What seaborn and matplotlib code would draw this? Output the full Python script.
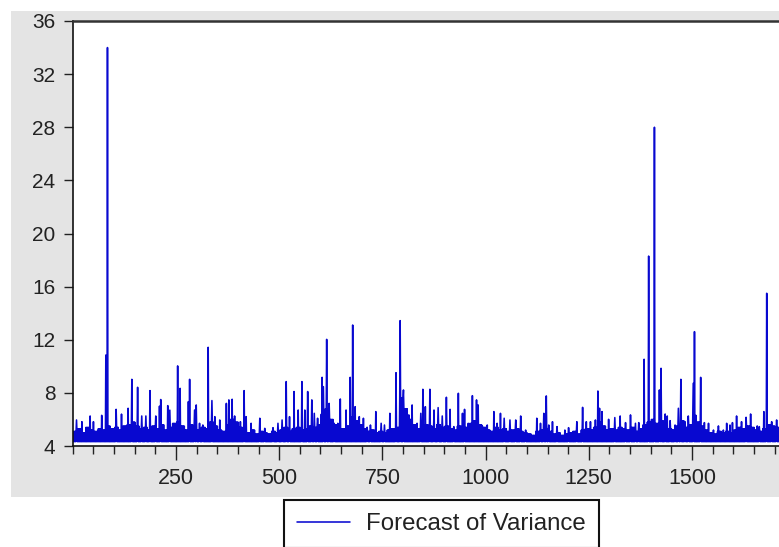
import numpy as np
import pandas as pd
import matplotlib
matplotlib.use("Agg")
import matplotlib.pyplot as plt
import matplotlib.patches as mpatches
from matplotlib.ticker import MultipleLocator
import seaborn as sns

# ---------------- data ----------------
n_obs = 1760
floor_level = 4.33          # bottom of the dense band
seg_len = 10                # band level given per 10 observations
band_top = [5.1, 5.3, 5.0, 5.4, 5.2, 5.1, 5.3, 5.2, 5.5, 5.3,
            5.4, 5.2, 5.5, 5.6, 5.8, 5.5, 5.3, 5.4, 5.2, 5.5,
            5.3, 5.6, 5.2, 5.4, 5.7, 5.8, 5.5, 5.2, 5.6, 5.4,
            5.2, 5.4, 5.3, 5.8, 5.5, 5.2, 5.1, 5.6, 6.0, 5.8,
            5.4, 5.1, 5.0, 5.2, 4.9, 5.1, 5.0, 4.9, 5.1, 5.0,
            5.2, 5.4, 5.1, 5.3, 5.4, 5.2, 5.3, 5.5, 5.4, 5.6,
            6.4, 6.8, 6.0, 5.6, 5.2, 5.3, 5.5, 6.2, 5.9, 5.6,
            5.3, 5.1, 5.2, 5.0, 5.1, 5.0, 5.2, 5.3, 5.4, 7.6,
            6.8, 6.0, 5.6, 5.3, 5.4, 5.6, 5.5, 5.3, 5.6, 5.4,
            5.5, 5.3, 5.2, 5.5, 5.3, 5.4, 5.7, 5.9, 5.6, 5.4,
            5.2, 5.1, 5.4, 5.2, 5.3, 5.1, 5.2, 5.3, 5.1, 5.0,
            4.9, 4.8, 5.1, 5.2, 5.3, 5.1, 4.9, 5.0, 4.8, 4.9,
            5.0, 5.1, 4.9, 5.2, 5.3, 5.2, 5.4, 5.8, 5.5, 5.2,
            5.3, 5.2, 5.4, 5.3, 5.2, 5.4, 5.1, 5.3, 5.6, 5.8,
            6.0, 5.7, 5.9, 5.5, 5.3, 5.2, 5.5, 5.9, 5.4, 5.6,
            6.3, 5.8, 5.5, 5.2, 5.0, 4.9, 5.1, 5.0, 5.1, 5.0,
            5.2, 5.4, 5.3, 5.5, 5.4, 5.2, 5.1, 5.3, 5.6, 5.5,
            5.4, 5.3, 5.2, 5.4, 5.3, 5.2]
spike_obs = [9, 22, 42, 50, 70, 80, 84, 105, 118, 134, 143, 157, 167, 177, 187,
             201, 210, 213, 230, 235, 254, 260, 280, 283, 295, 299, 307, 315, 328,
             337, 344, 356, 372, 378, 386, 392, 406, 415, 420, 432, 453, 465, 485,
             497, 507, 517, 525, 536, 546, 555, 562, 569, 579, 585, 593, 604, 607,
             615, 621, 633, 642, 648, 662, 672, 678, 684, 694, 704, 713, 721, 734,
             747, 755, 768, 783, 793, 801, 814, 822, 834, 843, 848, 854, 865, 875,
             885, 895, 905, 914, 923, 934, 944, 949, 958, 968, 978, 982, 992, 1004,
             1020, 1028, 1036, 1045, 1059, 1073, 1085, 1097, 1124, 1133, 1141, 1147,
             1153, 1162, 1173, 1192, 1201, 1221, 1235, 1244, 1254, 1266, 1272, 1276,
             1282, 1298, 1313, 1326, 1339, 1351, 1363, 1371, 1384, 1395, 1409, 1421,
             1425, 1435, 1440, 1447, 1459, 1467, 1473, 1483, 1491, 1503, 1506, 1521,
             1530, 1540, 1552, 1564, 1576, 1584, 1592, 1598, 1608, 1620, 1631, 1642,
             1658, 1663, 1674, 1681, 1693, 1705, 1728, 1745]
spike_val = [5.96, 5.83, 6.26, 5.83, 6.31, 10.85, 34.0, 6.76, 6.4, 6.84, 9.02, 8.42, 6.26, 6.26, 8.17,
             6.26, 7.0, 7.5, 7.04, 6.7, 10.03, 8.34, 7.34, 9.02, 6.71, 7.09, 5.71, 5.58, 11.43,
             7.42, 6.21, 5.96, 7.21, 7.47, 7.52, 6.26, 5.83, 8.17, 6.21, 5.71, 6.09, 5.33, 5.38,
             5.71, 5.96, 8.85, 6.21, 8.1, 6.71, 8.85, 6.71, 8.1, 7.47, 6.46, 6.09, 9.17, 8.47,
             12.03, 7.21, 5.71, 5.71, 7.54, 6.71, 9.17, 13.11, 6.96, 6.21, 6.09, 5.41, 5.58, 6.59,
             5.71, 5.58, 6.46, 9.52, 13.44, 8.22, 6.34, 7.09, 5.71, 6.46, 8.27, 6.96, 8.27, 6.71,
             6.89, 6.26, 7.67, 6.76, 5.46, 7.97, 6.46, 6.76, 5.71, 7.79, 7.47, 7.09, 5.51, 5.58,
             6.59, 5.71, 6.46, 6.09, 5.96, 5.96, 6.26, 5.2, 6.09, 5.71, 6.46, 7.77,
             5.58, 5.83, 5.46, 5.2, 5.38, 5.83, 6.91, 5.83, 5.83, 5.96, 8.14, 6.84,
             6.59, 6.01, 6.14, 6.26, 5.76, 6.34, 5.71, 5.76, 10.53, 18.3, 28.0, 8.22,
             9.85, 6.41, 6.26, 5.91, 5.58, 6.84, 9.02, 5.83, 6.26, 8.72, 12.61, 9.17,
             5.76, 5.71, 5.2, 5.51, 5.2, 5.71, 5.58, 5.76, 6.26, 5.83, 6.16, 6.41,
             5.51, 5.46, 6.59, 15.5, 5.83, 5.96, 5.9, 6.2]
series_label = "Forecast of Variance"
y_ticks = [4, 8, 12, 16, 20, 24, 28, 32, 36]
x_ticks = [250, 500, 750, 1000, 1250, 1500]

# --------------- build the series table ----------------
obs = np.arange(1, n_obs + 1)
vals = np.full(n_obs, floor_level)
band_arr = np.asarray(band_top)
vals[1::2] = band_arr[(obs[1::2] - 1) // seg_len]
vals[np.asarray(spike_obs) - 1] = spike_val
df = pd.DataFrame({"obs": obs, "var": vals})

# ---------------- figure ----------------
sns.set_style("white")
plt.rcParams["font.family"] = ["Liberation Sans", "DejaVu Sans"]

W, H = 779, 547
fig = plt.figure(figsize=(W / 100, H / 100), dpi=100)
fig.patch.set_facecolor("white")
# grey frame background
bg = mpatches.Rectangle((11 / W, 1 - 497 / H), 1 - 11 / W, (497 - 11) / H,
                        transform=fig.transFigure, facecolor="#e4e4e4",
                        edgecolor="none", zorder=-10)
fig.patches.append(bg)

px_per_obs = 0.4128
ax_left, ax_top, ax_bottom = 72.8, 21, 446
ax = fig.add_axes([ax_left / W, 1 - ax_bottom / H, n_obs * px_per_obs / W, (ax_bottom - ax_top) / H])
ax.set_facecolor("white")
ax.set_zorder(1)

sns.lineplot(data=df, x="obs", y="var", ax=ax, color="#0808d0", linewidth=1.15,
             label=series_label, estimator=None, sort=False)

ax.set_xlim(0, n_obs)
ax.set_ylim(4, 36)
ax.set_xlabel("")
ax.set_ylabel("")
ax.set_yticks(y_ticks)
ax.set_xticks(x_ticks)
ax.xaxis.set_minor_locator(MultipleLocator(50))
ax.tick_params(axis="y", which="major", direction="out", length=6.5, width=1.0,
               pad=6, labelsize=15, colors="#222222", left=True)
ax.tick_params(axis="x", which="major", direction="out", length=10, width=1.0,
               pad=6, labelsize=15.5, colors="#222222", bottom=True)
ax.tick_params(axis="x", which="minor", direction="out", length=5.5, width=1.0,
               bottom=True, color="#222222")

for side in ["left", "bottom"]:
    ax.spines[side].set_visible(True)
    ax.spines[side].set_color("#111111")
    ax.spines[side].set_linewidth(1.2)
ax.spines["top"].set_visible(True)
ax.spines["top"].set_color("#333333")
ax.spines["top"].set_linewidth(1.8)
ax.spines["right"].set_visible(False)

handles, labels = ax.get_legend_handles_labels()
ax.get_legend().remove()
leg = fig.legend(handles, labels, loc="upper left",
                 bbox_to_anchor=(284 / W, 1 - 500 / H), bbox_transform=fig.transFigure,
                 fontsize=17.3, frameon=True, fancybox=False, framealpha=1,
                 borderaxespad=0, borderpad=0.55, handlelength=2.2, handletextpad=0.65)
leg.get_frame().set_edgecolor("#111111")
leg.get_frame().set_linewidth(1.5)
for t in leg.get_texts():
    t.set_color("#222222")

fig.savefig("out.png", dpi=100)
